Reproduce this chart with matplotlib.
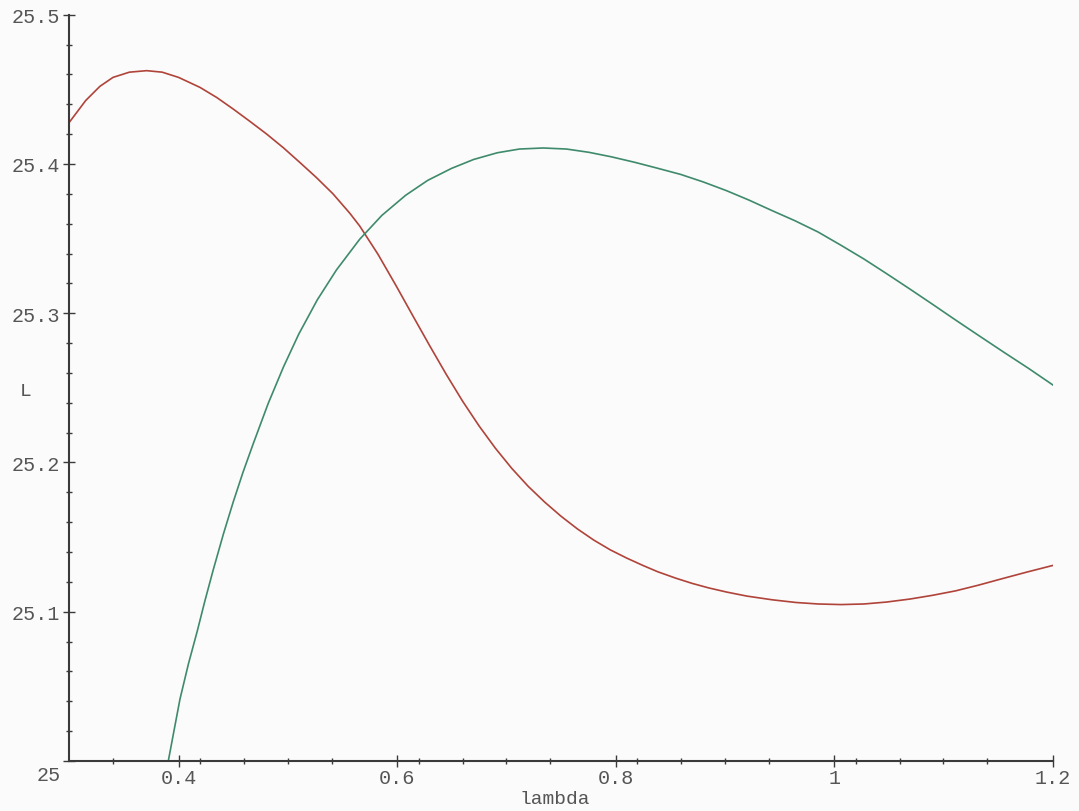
import numpy as np
import matplotlib
matplotlib.use('Agg')
import matplotlib.pyplot as plt
from matplotlib.ticker import FixedLocator
from matplotlib.transforms import ScaledTranslation

matplotlib.rcParams['font.family'] = ['Liberation Mono', 'DejaVu Sans Mono']

# L(lambda), two branches
lam_red = [0.30, 0.315, 0.328, 0.34, 0.355, 0.3708, 0.385, 0.40, 0.4196, 0.435,
           0.45, 0.465, 0.4805, 0.496, 0.511, 0.526, 0.5413, 0.5567, 0.5657, 0.5825,
           0.5994, 0.615, 0.63, 0.645, 0.66, 0.675, 0.69, 0.705, 0.72, 0.735,
           0.75, 0.765, 0.78, 0.795, 0.81, 0.825, 0.8385, 0.855, 0.87, 0.885,
           0.9015, 0.92, 0.9433, 0.965, 0.9853, 1.0063, 1.0273, 1.048, 1.0693, 1.09,
           1.1112, 1.132, 1.153, 1.176, 1.2]
L_red = [25.4279, 25.4425, 25.4520, 25.4580, 25.4615, 25.4625, 25.4615, 25.4580, 25.4513, 25.4445,
         25.4368, 25.4287, 25.4201, 25.4108, 25.4010, 25.3910, 25.3800, 25.3670, 25.3585, 25.3395,
         25.3180, 25.2975, 25.2780, 25.2590, 25.2410, 25.2245, 25.2095, 25.1960, 25.1840, 25.1735,
         25.1640, 25.1555, 25.1480, 25.1415, 25.1360, 25.1310, 25.1268, 25.1225, 25.1190, 25.1160,
         25.1132, 25.1105, 25.1080, 25.1062, 25.1052, 25.1048, 25.1052, 25.1065, 25.1085, 25.1110,
         25.1140, 25.1178, 25.1220, 25.1265, 25.1310]

lam_green = [0.3906, 0.396, 0.4013, 0.409, 0.4171, 0.424, 0.4317, 0.441, 0.45, 0.459,
             0.4683, 0.482, 0.496, 0.51, 0.527, 0.5445, 0.5657, 0.586, 0.6078, 0.628,
             0.6497, 0.67, 0.6917, 0.712, 0.7337, 0.755, 0.7756, 0.796, 0.8175, 0.838,
             0.8595, 0.88, 0.9015, 0.922, 0.9433, 0.964, 0.9853, 1.0063, 1.0273, 1.048,
             1.0693, 1.09, 1.11, 1.132, 1.155, 1.178, 1.2]
L_green = [25.0000, 25.0210, 25.0415, 25.0650, 25.0870, 25.1070, 25.1280, 25.1520, 25.1735, 25.1935,
           25.2125, 25.2395, 25.2640, 25.2860, 25.3090, 25.3290, 25.3495, 25.3655, 25.3790, 25.3890,
           25.3970, 25.4030, 25.4075, 25.4100, 25.4107, 25.4100, 25.4078, 25.4048, 25.4011, 25.3972,
           25.3930, 25.3880, 25.3821, 25.3758, 25.3687, 25.3620, 25.3544, 25.3455, 25.3363, 25.3265,
           25.3162, 25.3060, 25.2960, 25.2852, 25.2740, 25.2630, 25.2520]

xticks = [0.4, 0.6, 0.8, 1.0, 1.2]
xticklabels = ['0.4', '0.6', '0.8', '1', '1.2']
yticks = [25.0, 25.1, 25.2, 25.3, 25.4, 25.5]
yticklabels = ['25', '25.1', '25.2', '25.3', '25.4', '25.5']

W, H, DPI = 1079, 812, 100
fig = plt.figure(figsize=(W / DPI, H / DPI), dpi=DPI, facecolor='#fafbfa')
ax = fig.add_axes([69.3 / W, (H - 762) / H, (1052.7 - 69.3) / W, (762 - 15.7) / H])
ax.set_facecolor('none')

ax.plot(lam_red, L_red, color='#b0433a', lw=1.2, solid_joinstyle='round')
ax.plot(lam_green, L_green, color='#3f8a6c', lw=1.2, solid_joinstyle='round')

ax.set_xlim(0.3, 1.2)
ax.set_ylim(25.0, 25.5)

for s in ['top', 'right']:
    ax.spines[s].set_visible(False)
for s in ['left', 'bottom']:
    ax.spines[s].set_color('#3a3a3a')
    ax.spines[s].set_linewidth(1.5)

ax.set_xticks(xticks)
ax.set_xticklabels(xticklabels)
ax.set_yticks(yticks)
ax.set_yticklabels(yticklabels)
# minor ticks every 0.04 on x and 0.02 on y, skipping the major positions
ax.xaxis.set_minor_locator(FixedLocator([0.3 + 0.04 * i for i in range(1, 23) if (i - 2) % 5]))
ax.yaxis.set_minor_locator(FixedLocator([25 + 0.02 * i for i in range(26) if i % 5]))

ax.tick_params(which='major', direction='inout', length=8.5, width=1.0, color='#3a3a3a',
               labelsize=14.5, labelcolor='#555555')
ax.tick_params(which='minor', direction='inout', length=4.5, width=1.0, color='#3a3a3a')
ax.tick_params(axis='y', which='major', pad=2)
ax.tick_params(axis='x', which='major', pad=1)

# origin label sits a little below the axis
lab0 = ax.get_yticklabels()[0]
lab0.set_transform(lab0.get_transform() + ScaledTranslation(0, -8 / 72, fig.dpi_scale_trans))

ax.text((555 - 69.3) / (1052.7 - 69.3), (762 - 800) / (762 - 15.7), 'lambda',
        transform=ax.transAxes, ha='center', va='center', fontsize=14, color='#555555')
ax.text((26 - 69.3) / (1052.7 - 69.3), (762 - 391.7) / (762 - 15.7), 'L',
        transform=ax.transAxes, ha='center', va='center', fontsize=14, color='#555555')

fig.savefig('out.png', dpi=DPI, facecolor=fig.get_facecolor())
